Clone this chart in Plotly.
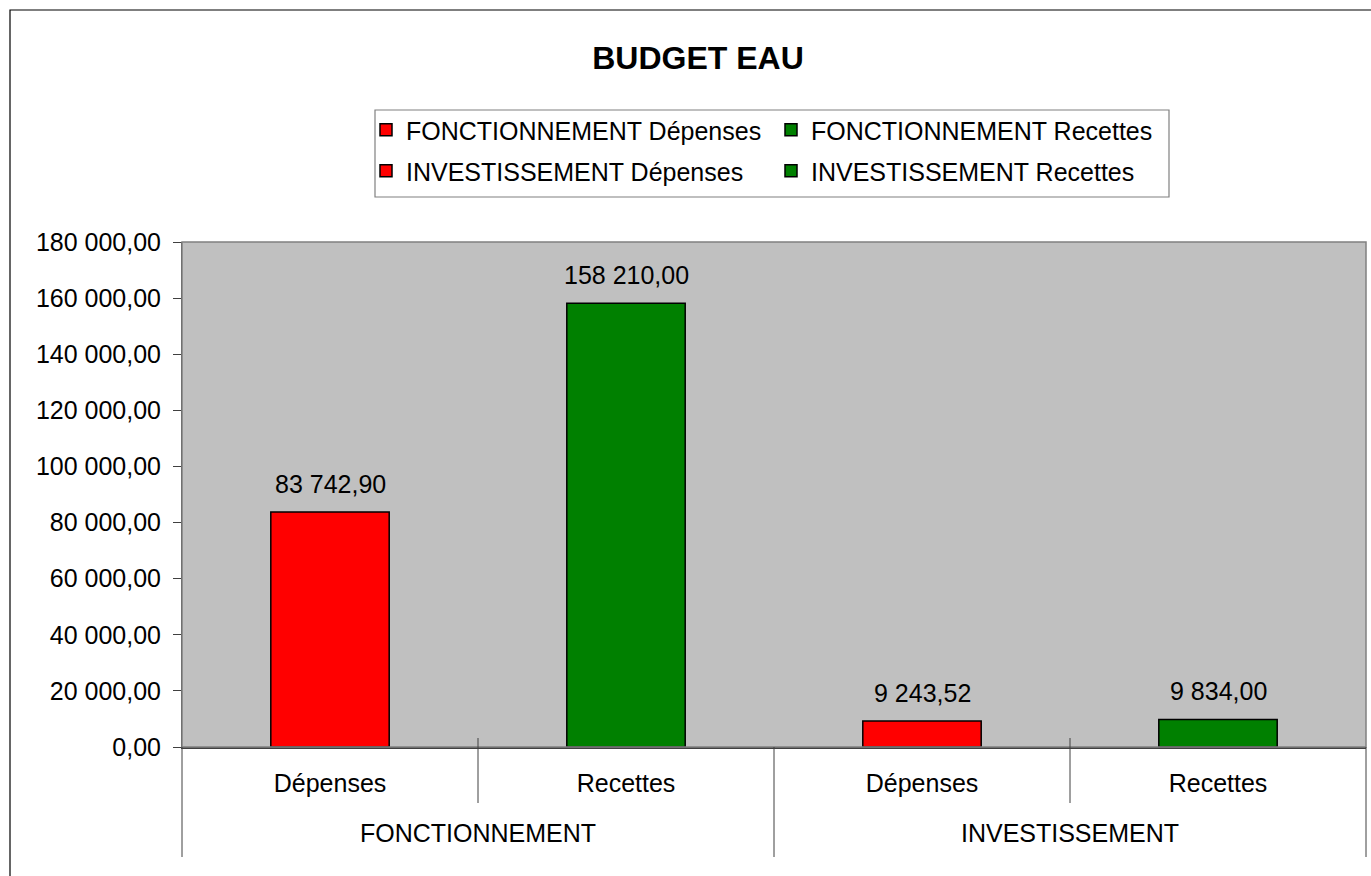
import plotly.graph_objects as go

groups = ["FONCTIONNEMENT", "FONCTIONNEMENT", "INVESTISSEMENT", "INVESTISSEMENT"]
kinds = ["Dépenses", "Recettes", "Dépenses", "Recettes"]
values = [83742.90, 158210.00, 9243.52, 9834.00]
colors = ["#FF0000", "#008000", "#FF0000", "#008000"]
legends = ["legend", "legend", "legend2", "legend2"]
y_ticks = [0, 20000, 40000, 60000, 80000, 100000, 120000, 140000, 160000, 180000]

W, H = 1371, 876
# plot area in screen pixels: x 182..1366, y 242..747
L, T = 182, 242
R = W - 1366
B = H - 747
PW, PH = W - L - R, H - T - B
FONT = "Liberation Sans, Arial, sans-serif"
FS = 25


def fx(px):
    return (px - L) / PW


def fy(py):
    return (H - B - py) / PH


def fr(v):
    return f"{v:,.2f}".replace(",", " ").replace(".", ",")


fig = go.Figure()
for g, k, v, c, lg in zip(groups, kinds, values, colors, legends):
    fig.add_trace(go.Bar(
        x=[[g], [k + "<br> "]], y=[v], name=f"{g} {k}",
        marker=dict(color=c, line=dict(color="#000000", width=1.5)),
        width=0.4, legend=lg,
    ))

annotations = []
for i, v in enumerate(values):
    annotations.append(dict(
        x=i, y=v, xref="x", yref="y", text=fr(v), showarrow=False,
        yanchor="bottom", yshift=12, font=dict(size=FS, color="#000000", family=FONT),
    ))

shapes = [
    dict(type="rect", xref="paper", yref="paper", x0=fx(10), x1=fx(1400), y0=fy(900), y1=fy(10),
         line=dict(color="#000000", width=1.2)),
    dict(type="rect", xref="paper", yref="paper", x0=0, x1=1, y0=0, y1=1,
         line=dict(color="#808080", width=1.5), layer="above"),
    dict(type="rect", xref="paper", yref="paper", x0=fx(375), x1=fx(1169), y0=fy(197), y1=fy(110),
         line=dict(color="#808080", width=1.2)),
]
for f in [0.25, 0.75]:
    shapes.append(dict(type="line", xref="paper", yref="paper", x0=f, x1=f, y0=fy(738), y1=fy(803),
                       line=dict(color="#404040", width=1)))
for f in [0, 0.5, 1]:
    shapes.append(dict(type="line", xref="paper", yref="paper", x0=f, x1=f, y0=fy(747), y1=fy(857),
                       line=dict(color="#404040", width=1)))

fig.update_layout(
    width=W, height=H,
    margin=dict(l=L, r=R, t=T, b=B),
    paper_bgcolor="#FFFFFF", plot_bgcolor="#C0C0C0",
    separators=", ",
    barmode="overlay",
    font=dict(family=FONT, size=FS, color="#000000"),
    title=dict(text="<b>BUDGET EAU</b>", x=698 / W, xanchor="center",
               y=1 - 58 / H, yanchor="middle",
               font=dict(size=32, family=FONT, color="#000000")),
    legend=dict(orientation="h", x=fx(366), xanchor="left", y=fy(130), yanchor="middle",
                entrywidth=360, bgcolor="rgba(0,0,0,0)", borderwidth=0,
                font=dict(size=FS, family=FONT)),
    legend2=dict(orientation="h", x=fx(366), xanchor="left", y=fy(171), yanchor="middle",
                 entrywidth=360, bgcolor="rgba(0,0,0,0)", borderwidth=0,
                 font=dict(size=FS, family=FONT)),
    xaxis=dict(type="multicategory", showgrid=False, ticks="", showdividers=False,
               showline=True, linecolor="#404040", linewidth=2, ticklabelstandoff=13,
               tickfont=dict(size=FS, family=FONT)),
    yaxis=dict(range=[0, 180000], tickvals=y_ticks, tickformat=",.2f", showgrid=False,
               ticks="outside", ticklen=8, tickcolor="#404040", showline=True, linecolor="#404040",
               ticklabelstandoff=7, zeroline=False, tickfont=dict(size=FS, family=FONT)),
    annotations=annotations,
    shapes=shapes,
)

fig.write_html("out.html", config={"displayModeBar": False},
               post_script="document.body.style.margin='0px';")
